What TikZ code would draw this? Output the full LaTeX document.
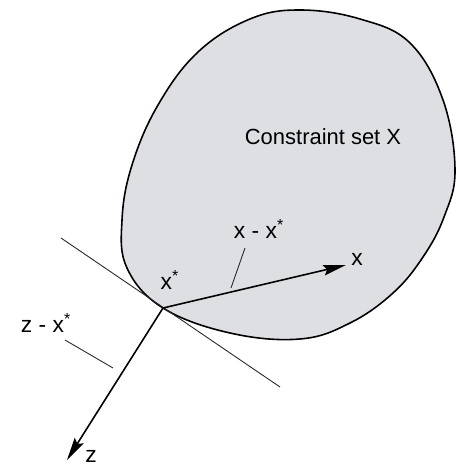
\documentclass[tikz,border=0pt]{standalone}
\usepackage{fontspec}
\setmainfont{Liberation Sans}
\usetikzlibrary{arrows.meta}
\definecolor{setgray}{RGB}{221,223,227}

\begin{document}
\begin{tikzpicture}[
    x=0.02cm, y=-0.02cm,
    lbl/.style={font=\fontsize{13}{15}\selectfont, inner sep=1pt},
    thin line/.style={line width=0.5pt, black!85},
    vec/.style={->, line width=0.9pt},
    >={Stealth[length=13pt, width=6pt, inset=2pt]}
]
\useasboundingbox (0,0) rectangle (455,465);

% Conjunto
\draw[fill=setgray, line width=0.9pt] plot[smooth cycle, tension=0.65] coordinates {
    (163,308) (127,268) (122,220) (132,165) (158,105) (198,52)
    (250,19) (300,10) (360,19) (410,43) (443,100) (455,170)
    (444,217) (423,257) (393,293) (350,323) (300,339) (230,333)};

\node[font=\fontsize{12.5}{15}\selectfont] (set) at (323,137) {Constraint set X};

% Puntos
\coordinate (xs) at (163,308);
\coordinate (xtip) at (346,265);
\coordinate (ztip) at (67,460);
\coordinate (tA) at (61,238);
\coordinate (tB) at (280,387);

% Recta tangente
\draw[thin line] (tA) -- (tB);

% Vectores
\draw[vec] (xs) -- (xtip);
\draw[vec] (xs) -- (ztip);

% Etiquetas
\node[lbl] (xstar) at (170,280) {x\textsuperscript{*}};
\node[lbl] (xend) at (357,259) {x};
\node[lbl] (zend) at (91,456) {z};
\node[lbl] (xdiff) at (259,229) {x - x\textsuperscript{*}};
\node[lbl] (zdiff) at (46,323) {z - x\textsuperscript{*}};

% Lineas de referencia
\coordinate (xd1) at (245,248);
\coordinate (xd2) at (231,288);
\coordinate (zd1) at (65,340);
\coordinate (zd2) at (113,368);
\draw[thin line] (xd1) -- (xd2);
\draw[thin line] (zd1) -- (zd2);

\end{tikzpicture}
\end{document}
